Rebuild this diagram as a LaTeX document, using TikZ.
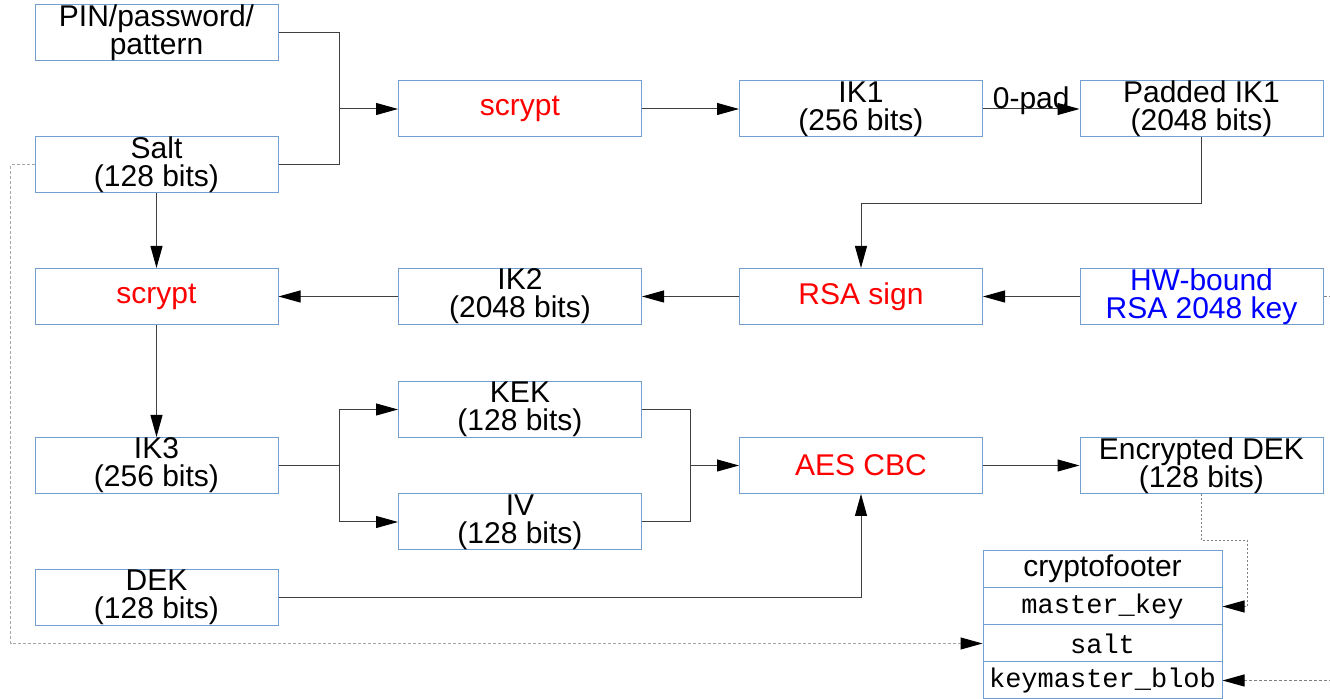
\documentclass[tikz,border=0pt]{standalone}
\usepackage{fontspec}
\setmainfont{Liberation Sans}
\setmonofont{Liberation Mono}
\usepackage{xcolor}
\usetikzlibrary{arrows.meta,positioning,calc}

\definecolor{boxblue}{RGB}{114,159,207}
\definecolor{linegray}{RGB}{64,64,64}
\definecolor{keyred}{RGB}{255,0,0}
\definecolor{keyblue}{RGB}{0,0,255}

\begin{document}
\begin{tikzpicture}[
    x=0.5pt, y=-0.5pt,
    block/.style={draw=boxblue, line width=0.5pt, rectangle, minimum width=121.5pt, minimum height=28pt, inner sep=0pt, align=center, font=\fontsize{15}{14}\selectfont},
    field/.style={draw=boxblue, line width=0.5pt, rectangle, minimum width=119.5pt, minimum height=18.5pt, inner sep=0pt, font=\fontsize{13.5}{14}\selectfont\ttfamily},
    arr/.style={-{Triangle[length=11pt,width=6pt,color=black]}, draw=linegray, line width=0.5pt},
    line/.style={draw=linegray, line width=0.5pt},
    dash line/.style={-{Triangle[length=11pt,width=6pt,color=black]}, draw=gray, line width=0.5pt, dash pattern=on 1.5pt off 1pt},
]
\useasboundingbox (0,0) rectangle (1330,699);

% Left column
\node[block] (pin) at (156.5, 33) {PIN/password/\\pattern};
\node[block] (salt) at (156.5, 165) {Salt\\(128 bits)};
\node[block, text=keyred] (scryptB) at (156.5, 296.5) {scrypt};
\node[block] (ik3) at (156.5, 465.5) {IK3\\(256 bits)};
\node[block] (dek) at (156.5, 597.5) {DEK\\(128 bits)};

% Second column
\node[block, text=keyred] (scryptA) at (520, 109) {scrypt};
\node[block] (ik2) at (520, 296.5) {IK2\\(2048 bits)};
\node[block] (kek) at (520, 409.5) {KEK\\(128 bits)};
\node[block] (iv) at (520, 522) {IV\\(128 bits)};

% Third column
\node[block] (ik1) at (861, 109) {IK1\\(256 bits)};
\node[block, text=keyred] (rsa) at (861, 296.5) {RSA sign};
\node[block, text=keyred] (aes) at (861, 465.5) {AES CBC};

% Right column
\node[block] (padded) at (1201.5, 109) {Padded IK1\\(2048 bits)};
\node[block, text=keyblue] (hwkey) at (1201.5, 296.5) {HW-bound\\RSA 2048 key};
\node[block] (encdek) at (1201.5, 465.5) {Encrypted DEK\\(128 bits)};

% Crypto footer
\node[field, font=\fontsize{15}{14}\selectfont] (footer) at (1102.5, 569) {cryptofooter};
\node[field] (fkey) at (1102.5, 606.5) {master\_key};
\node[field] (fsalt) at (1102.5, 643.5) {salt};
\node[field] (fblob) at (1102.5, 680.5) {keymaster\_blob};

% Connectors
\coordinate (j1) at (339, 109);
\draw[line] (pin.east) -| (j1);
\draw[line] (salt.east) -| (j1);
\draw[arr] (j1) -- (scryptA.west);
\draw[arr] (scryptA) -- (ik1);
\draw[arr] (ik1) -- (padded) node[pos=0.5, anchor=base, font=\fontsize{15}{15}\selectfont] at (1029, 104) {0-pad};
\draw[arr] (padded.south) -- ++(0, 66) -| (rsa.north);
\draw[arr] (hwkey) -- (rsa);
\draw[arr] (rsa) -- (ik2);
\draw[arr] (ik2) -- (scryptB);
\draw[arr] (salt) -- (scryptB);
\draw[arr] (scryptB) -- (ik3);

\coordinate (j2) at (339, 465.5);
\draw[line] (ik3.east) -- (j2);
\draw[arr] (j2) |- (kek.west);
\draw[arr] (j2) |- (iv.west);
\coordinate (j3) at (690, 465.5);
\draw[line] (kek.east) -| (j3);
\draw[line] (iv.east) -| (j3);
\draw[arr] (j3) -- (aes.west);
\draw[arr] (aes) -- (encdek);
\draw[arr] (dek.east) -| (aes.south);

% Dashed links to the footer
\draw[dash line, draw=gray!70] (salt.west) -- ++(-24, 0) |- (fsalt.west);
\draw[dash line, dash pattern=on 1pt off 1pt] (encdek.south) -- ++(0, 47) -| ($(fkey.east)+(25,-65)$) |- (fkey.east);
\coordinate (hwout) at (1332, 296.5);
\draw[line, draw=gray, dash pattern=on 1.5pt off 1pt] (hwkey.east) -- (hwout);
\coordinate (blobin) at (1332, 680.5);
\draw[dash line] (blobin) -- (fblob.east);

\end{tikzpicture}
\end{document}
